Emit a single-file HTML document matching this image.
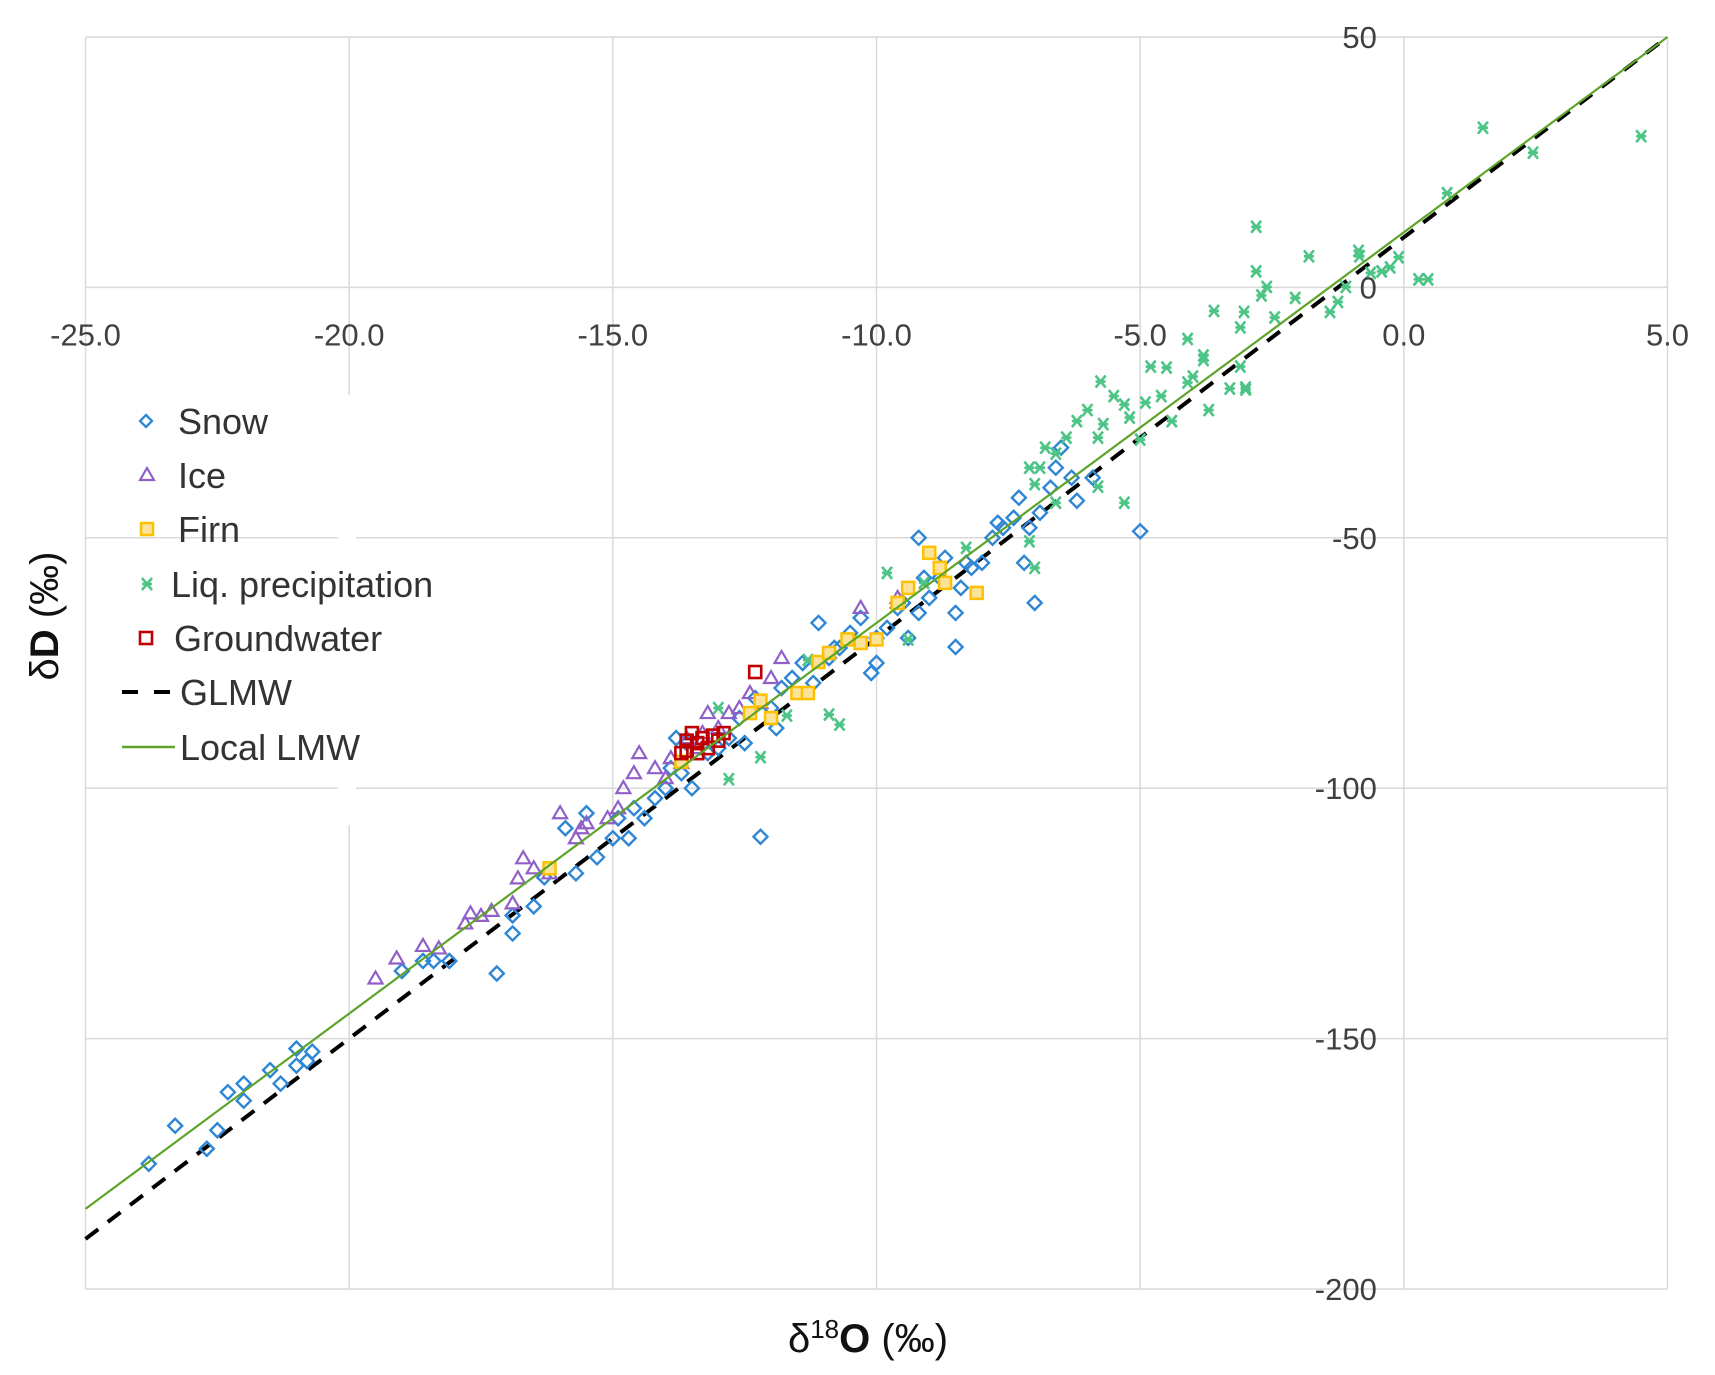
<!DOCTYPE html>
<html><head><meta charset="utf-8"><style>
html,body{margin:0;padding:0;background:#fff;}
svg{display:block;font-family:"Liberation Sans",sans-serif;}
</style></head><body>
<svg id="chart" width="1715" height="1375" viewBox="0 0 1715 1375" xmlns="http://www.w3.org/2000/svg">
<g id="grid"></g>
<g id="lines"></g>
<g id="marks"></g>
<g id="ticks"></g>
<rect x="338" y="395" width="18" height="430" fill="#fff"/>
<g id="legend"></g>
<text x="58" y="616" transform="rotate(-90 58 616)" text-anchor="middle" font-size="40" fill="#111">δ<tspan font-weight="bold">D</tspan> (‰)</text>
<text x="868" y="1352" text-anchor="middle" font-size="40" fill="#111">δ<tspan font-size="26" dy="-14">18</tspan><tspan font-weight="bold" dy="14">O</tspan> (‰)</text>
</svg>
<script>
const xTicks=[-25,-20,-15,-10,-5,0,5];
const xTickLabels=["-25.0","-20.0","-15.0","-10.0","-5.0","0.0","5.0"];
const yTicks=[50,0,-50,-100,-150,-200];
const yTickLabels=["50","0","-50","-100","-150","-200"];
const snowX=[-23.8,-23.3,-22.7,-22.5,-22.3,-22,-22,-21.5,-21.3,-21,-21,-20.7,-20.8,-19,-18.6,-18.4,-18.1,-17.2,-16.9,-16.9,-16.5,-16.3,-15.7,-15.3,-15,-14.7,-14.6,-14.4,-14.2,-14.0,-13.9,-13.7,-13.5,-13.8,-13.2,-13.0,-12.8,-12.6,-12.5,-12.2,-12.0,-12.3,-11.8,-11.6,-11.4,-11.2,-11.1,-10.9,-10.7,-10.5,-10.3,-10.1,-10.0,-10.0,-9.8,-9.6,-9.4,-9.2,-9.2,-9.0,-8.8,-8.7,-8.5,-8.5,-8.4,-8.2,-8.0,-7.8,-7.6,-7.4,-7.3,-7.1,-7.0,-6.9,-6.7,-6.5,-6.3,-6.2,-5.9,-5.0,-15.9,-15.5,-14.9,-13.6,-11.9,-10.8,-9.5,-9.1,-8.3,-7.7,-7.2,-6.6];
const snowY=[-175,-167.4,-172,-168.3,-160.7,-159,-162.4,-156.3,-159,-152,-155.4,-152.6,-154.5,-136.5,-134.5,-134.5,-134.5,-137,-129,-125.4,-123.6,-117.8,-117,-113.8,-110,-110,-104,-106,-102,-100,-96,-97,-100,-90,-93,-92,-90,-86,-91,-109.7,-84,-82,-80,-78,-75,-79,-67,-74,-72,-69,-66,-77,-75,-70,-68,-64,-70,-50,-65,-62,-58,-54,-65,-71.8,-60,-56,-55,-50,-48,-46,-42,-48,-63,-45,-40,-32,-38,-42.6,-38,-48.7,-108,-105,-106,-91,-88,-72,-63,-58,-55,-47,-55,-36];
const iceX=[-19.5,-19.1,-18.6,-18.3,-17.8,-17.7,-17.5,-17.3,-16.9,-16.8,-16.7,-16.5,-16.2,-16.0,-15.7,-15.6,-15.5,-15.1,-14.9,-14.6,-14.5,-14.2,-14.0,-13.9,-13.7,-13.6,-13.3,-13.2,-13.0,-12.8,-12.6,-12.4,-12.2,-12.0,-11.8,-10.3,-9.6,-14.8,-13.4];
const iceY=[-138,-134,-131.5,-132,-127,-125,-125.5,-124.5,-123,-118,-114,-116,-117,-105,-110,-108,-107,-106,-104,-97,-93,-96,-98,-94,-95,-90,-89,-85,-88,-85,-84,-81,-83,-78,-74,-64,-62,-100,-92];
const firnX=[-16.2,-13.7,-12.2,-12.0,-11.5,-11.3,-11.1,-10.9,-10.55,-10.0,-9.6,-9.4,-9.0,-8.8,-8.7,-8.1,-12.4,-10.3];
const firnY=[-116,-94.7,-82.5,-86,-81,-81,-74.8,-73,-70.3,-70.3,-63,-60,-53,-56,-59,-61,-85,-71];
const gwX=[-12.3,-13.7,-13.6,-13.5,-13.4,-13.3,-13.2,-13.1,-13.0,-12.9,-13.4,-13.6];
const gwY=[-76.8,-93,-92.5,-89,-91,-90,-92,-89.5,-90.5,-89,-93,-90.5];
const rainX=[4.5,1.5,2.45,0.82,0.28,-2.8,-1.8,-0.86,-0.84,-0.1,-0.42,-0.26,0.46,-2.8,-2.6,-2.7,-2.06,-1.4,-1.25,-1.1,-0.63,-2.45,-3.03,-3.6,-3.1,-3.1,-3.0,-3.0,-3.3,-3.7,-3.8,-3.8,-4.0,-4.1,-4.1,-4.5,-4.8,-4.6,-4.9,-4.4,-5.0,-5.3,-5.2,-5.3,-5.75,-5.5,-5.7,-5.8,-6.0,-6.2,-6.4,-6.6,-6.8,-6.9,-7.1,-7.0,-6.6,-7.1,-7.0,-5.8,-9.8,-9.4,-10.9,-10.7,-12.2,-12.8,-13.0,-11.7,-11.3,-9.1,-8.3];
const rainY=[30.2,31.9,26.9,18.8,1.6,12.1,6.2,7.3,6.2,6.0,3.2,4.0,1.6,3.2,0.1,-1.6,-2.1,-4.9,-2.9,0.1,2.9,-6,-4.9,-4.7,-8,-15.8,-20,-20.4,-20.2,-24.5,-14.5,-13.6,-17.8,-10.3,-19,-16,-15.8,-21.7,-23,-26.7,-30.4,-23.4,-26,-43,-18.8,-21.7,-27.3,-30,-24.5,-26.7,-30,-33.2,-32,-36,-36,-39.3,-43,-50.7,-56,-39.8,-57,-70.3,-85.3,-87.3,-93.8,-98.2,-84,-85.5,-74.4,-59,-52];
const lineX=[-25,5];
const glmwSlope=8, glmwIntercept=10;
const lmwSlope=7.8, lmwIntercept=11;

const X0=85.5, X1=1667.5, XMIN=-25, XMAX=5;
const Y0=37, Y1=1289, YMAX=50, YMIN=-200;
const sx=v=>X0+(v-XMIN)/(XMAX-XMIN)*(X1-X0);
const sy=v=>Y0+(YMAX-v)/(YMAX-YMIN)*(Y1-Y0);
const NS="http://www.w3.org/2000/svg";
function mk(tag,attrs,parent){const e=document.createElementNS(NS,tag);for(const k in attrs)e.setAttribute(k,attrs[k]);parent.appendChild(e);return e;}

const grid=document.getElementById('grid');
xTicks.forEach(t=>{
  const l=mk('line',{x1:sx(t),x2:sx(t),y1:Y0,y2:Y1,stroke:'#d9d9d9','stroke-width':1.5},grid);
  
  
});
yTicks.forEach(t=>{
  const l=mk('line',{x1:X0,x2:X1,y1:sy(t),y2:sy(t),stroke:'#d9d9d9','stroke-width':1.5},grid);
  
  
});

const ticks=document.getElementById('ticks');
xTicks.forEach((t,i)=>{
  const e=mk('text',{x:sx(t),y:sy(0)+58,'text-anchor':'middle','font-size':31,fill:'#404040'},ticks);
  e.textContent=xTickLabels[i];
  
  
});
yTicks.forEach((t,i)=>{
  const e=mk('text',{x:sx(0)-27,y:sy(t)+11,'text-anchor':'end','font-size':31,fill:'#404040'},ticks);
  e.textContent=yTickLabels[i];
  
  
});

const lines=document.getElementById('lines');
const gl=mk('line',{x1:sx(lineX[0]),y1:sy(glmwSlope*lineX[0]+glmwIntercept),x2:sx(lineX[1]),y2:sy(glmwSlope*lineX[1]+glmwIntercept),stroke:'#000','stroke-width':4,'stroke-dasharray':'16 12'},lines);



const marks=document.getElementById('marks');
function diamond(x,y){const p=mk('path',{d:`M${x} ${y-7}L${x+7} ${y}L${x} ${y+7}L${x-7} ${y}Z`,fill:'none',stroke:'#2e86d4','stroke-width':2.4},marks);}
function tri(x,y){const p=mk('path',{d:`M${x} ${y-7}L${x+7} ${y+5}L${x-7} ${y+5}Z`,fill:'none',stroke:'#9060c8','stroke-width':2.2},marks);}
function firn(x,y){const p=mk('rect',{x:x-6,y:y-6,width:12,height:12,fill:'#fbe39a',stroke:'#ffc000','stroke-width':2.5},marks);}
function gw(x,y){const p=mk('rect',{x:x-6,y:y-6,width:12,height:12,fill:'none',stroke:'#c00000','stroke-width':2.6},marks);}
function star(x,y,g){const p=mk('path',{d:`M${x-5} ${y-6}L${x+5} ${y+6}M${x+5} ${y-6}L${x-5} ${y+6}M${x-5} ${y}L${x+5} ${y}`,fill:'none',stroke:'#4cc486','stroke-width':2.6},g||marks);}
snowX.forEach((v,i)=>diamond(sx(v),sy(snowY[i])));
iceX.forEach((v,i)=>tri(sx(v),sy(iceY[i])));
rainX.forEach((v,i)=>star(sx(v),sy(rainY[i])));
firnX.forEach((v,i)=>firn(sx(v),sy(firnY[i])));
gwX.forEach((v,i)=>gw(sx(v),sy(gwY[i])));

const ll=mk('line',{x1:sx(lineX[0]),y1:sy(lmwSlope*lineX[0]+lmwIntercept),x2:sx(lineX[1]),y2:sy(lmwSlope*lineX[1]+lmwIntercept),stroke:'#5ea32a','stroke-width':2.2},marks);



const lg=document.getElementById('legend');
const rows=[421,475,529,584,638,692,747];
const names=["Snow","Ice","Firn","Liq. precipitation","Groundwater","GLMW","Local LMW"];
const tx=[178,178,178,171,174,180,180];
names.forEach((n,i)=>{
  const t=mk('text',{x:tx[i],y:rows[i]+13,'font-size':36,fill:'#333'},lg);
  t.textContent=n;
  
  
});
const lgm=mk('g',{},lg);


(function(){
  let p=mk('path',{d:`M146 ${rows[0]-6}L152 ${rows[0]}L146 ${rows[0]+6}L140 ${rows[0]}Z`,fill:'none',stroke:'#2e86d4','stroke-width':2.3},lgm);
  p=mk('path',{d:`M147 ${rows[1]-7}L154 ${rows[1]+5}L140 ${rows[1]+5}Z`,fill:'none',stroke:'#9060c8','stroke-width':2.2},lgm);
  p=mk('rect',{x:141,y:rows[2]-6,width:12,height:12,fill:'#fbe39a',stroke:'#ffc000','stroke-width':2.5},lgm);
  star(147,rows[3],lgm);
  p=mk('rect',{x:140,y:rows[4]-6,width:12,height:12,fill:'none',stroke:'#c00000','stroke-width':2.6},lgm);
  p=mk('line',{x1:122,x2:172,y1:rows[5],y2:rows[5],stroke:'#000','stroke-width':4,'stroke-dasharray':'16 16'},lgm);
  p=mk('line',{x1:122,x2:175,y1:rows[6],y2:rows[6],stroke:'#5ea32a','stroke-width':2.5},lgm);
})();
</script>
</body></html>
